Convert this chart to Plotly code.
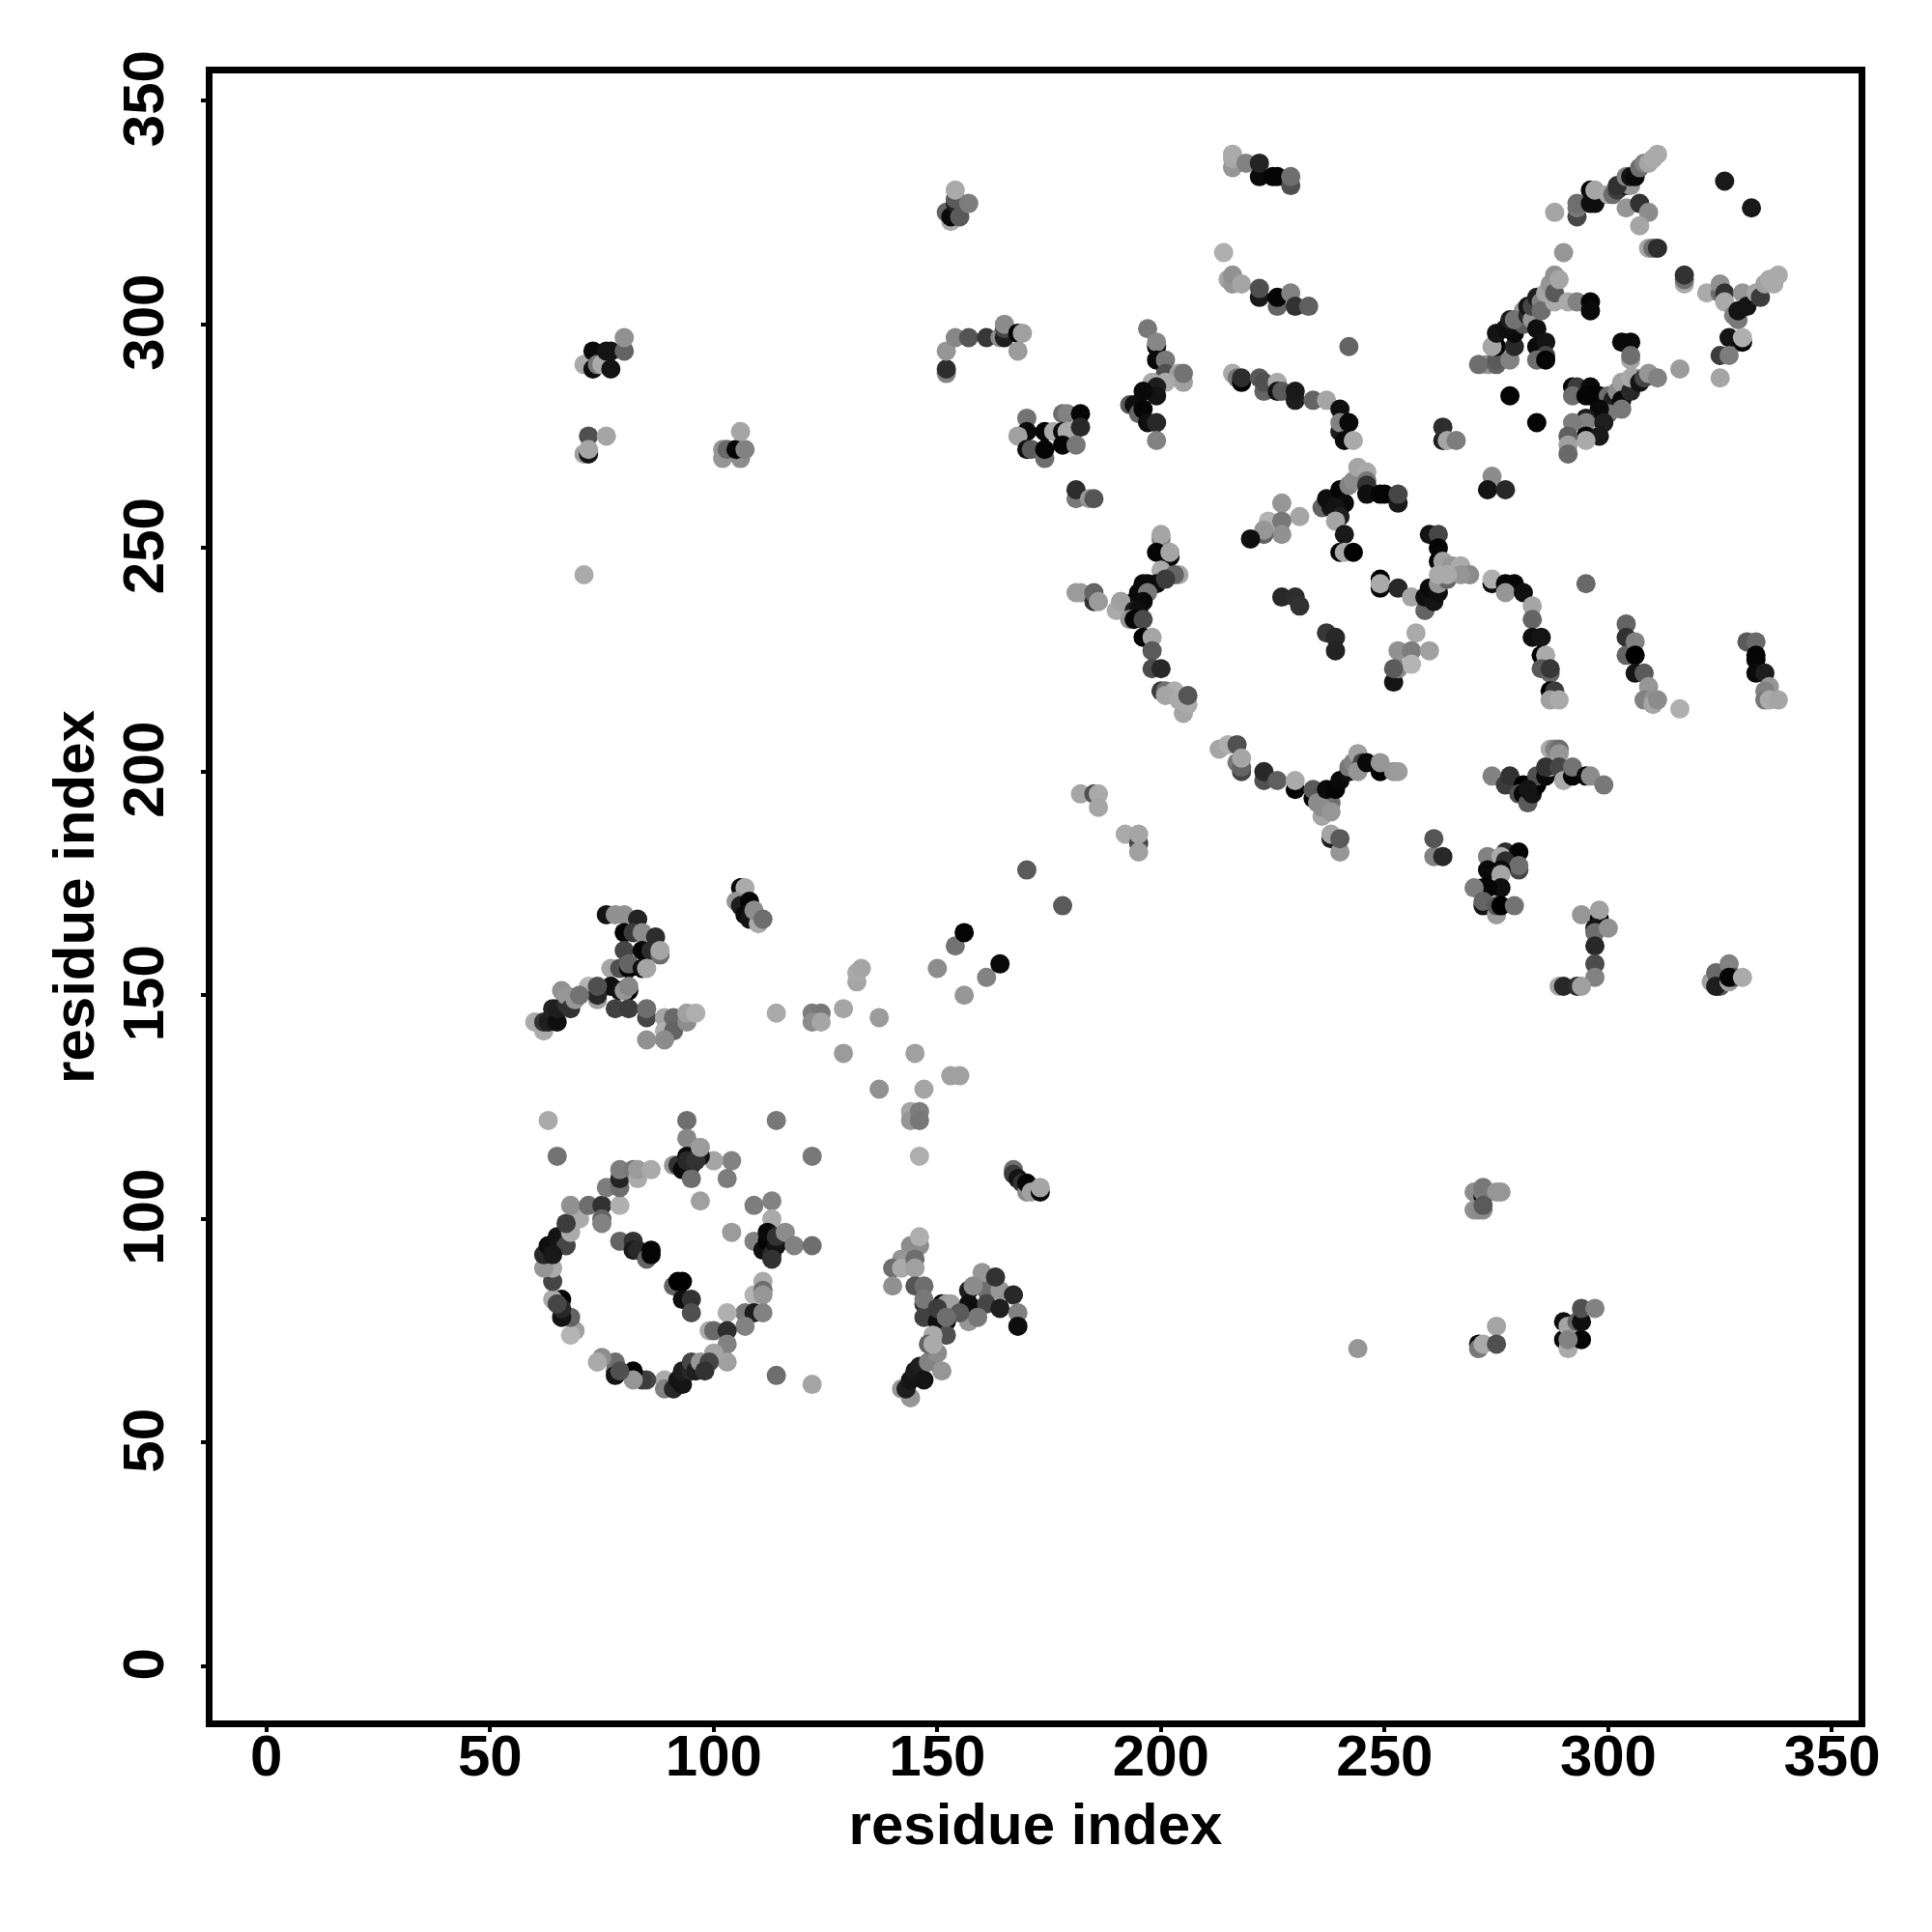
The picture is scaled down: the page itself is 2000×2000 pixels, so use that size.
import plotly.graph_objects as go

residue_x = [
63,65,94,94,114,122,104,100,103,97,
91,92,94,95,93,95,97,94,96,97,
109,113,113,104,109,111,112,113,114,112,
113,114,116,118,122,111,109,111,111,107,
109,111,103,107,99,100,103,103,103,100,
114,122,89,89,91,92,93,93,95,95,
96,97,99,98,85,84,82,82,78,78,
78,79,75,74,69,68,68,66,66,64,
64,64,62,62,63,65,67,64,68,70,
67,68,72,75,75,75,79,76,79,79,
79,82,83,83,86,79,82,82,83,86,
85,86,91,92,93,93,95,95,66,65,
137,147,153,155,144,144,146,146,146,144,
146,146,142,140,142,145,145,140,145,147,
147,147,151,152,150,152,150,152,149,153,
142,144,143,144,145,146,147,148,150,151,
157,157,161,161,164,164,167,168,168,160,
163,158,157,159,155,147,150,152,148,149,
76,78,80,83,80,82,84,87,80,84,
86,88,88,77,79,81,81,84,85,77,
79,81,80,81,72,74,74,74,78,81,
85,85,85,89,89,91,91,89,94,94,
96,60,62,62,63,64,65,65,66,67,
67,68,69,70,106,107,105,106,108,107,
108,110,109,111,114,122,124,122,124,129,
137,129,145,132,132,133,150,154,156,156,
161,164,170,178,71,71,73,73,74,75,
76,77,77,80,80,72,76,71,72,72,
102,102,103,106,105,107,106,152,152,152,
153,152,153,154,155,154,157,154,154,157,
161,164,165,165,165,168,169,168,170,170,
168,170,171,174,174,174,176,178,179,182,
178,179,182,178,181,181,181,184,185,197,
199,199,199,201,201,204,205,205,201,198,
199,199,193,194,195,196,196,197,199,199,
216,216,216,219,222,222,226,225,229,229,
214,215,216,216,218,222,222,226,226,229,
230,233,242,216,217,218,218,222,223,223,
226,226,227,230,230,234,237,240,240,240,
242,241,243,263,263,264,266,274,274,273,
277,288,293,293,293,296,296,297,297,300,
301,302,304,305,302,304,305,306,307,308,
309,310,311,304,307,309,307,309,310,311,
326,332,290,317,317,317,322,325,325,326,
326,328,329,329,330,331,333,334,335,336,
337,338,329,327,330,330,325,327,325,316,
273,271,275,275,275,278,279,279,281,281,
274,275,277,278,279,282,282,283,283,284,
284,285,285,286,287,288,288,288,289,284,
286,286,284,286,291,293,296,296,303,305,
305,305,278,284,292,293,292,296,296,295,
298,300,301,302,303,303,305,305,306,307,
308,309,311,303,300,298,298,295,295,292,
299,295,298,295,291,291,291,227,231,224,
227,227,223,223,220,236,238,237,240,241,
239,240,239,241,240,241,243,242,243,244,
246,246,246,246,249,250,253,253,260,262,
262,262,249,249,249,253,256,259,259,261,
260,262,262,264,263,265,267,269,267,264,
262,274,274,277,279,277,281,283,283,283,
285,285,286,285,287,287,287,288,287,289,
295,304,304,304,306,306,306,308,309,308,
310,310,311,316,331,333,333,333,333,335,
336,335,335,336,338,213,215,217,218,217,
218,218,223,223,226,230,230,234,234,238,
236,235,236,238,237,239,240,242,242,243,
244,245,244,246,249,249,252,253,238,238,
240,240,261,261,263,200,200,199,202,202,
200,199,197,196,195,197,194,196,191,190,
191,194,195,204,203,201,193,194,196,196,
198,198,198,200,200,201,203,201,205,204,
206,206,181,182,185,185,186,182,185,186,
186,192,195,195,195,227,230,231,237,239,
239,257,253,256,260,252,253,256,252,274,
277,278,281,280,281,282,283,284,284,286,
287,288,289,289,287,286,289,290,292,292,
295,296,299,282,273,277,280,280,276,277,
280,273,276,276,276,273,272,270,272,272,
275,275,276,279,294,298,298,297,297,300,
297,297,297,289,290,293,294,323,324,324,
325,324,327,327,328,327,330,244,270,272,
272,272,276,275,270,271,272,272,275,271,
271,272,275,290,290,291,291,293,294,294,
291,294,297,167,167,168,169,170,170,171,
173,173,
]

residue_y = [
122,114,122,118,122,114,113,113,109,104,
112,112,114,112,111,109,114,113,113,116,
103,104,100,97,95,93,95,92,94,97,
91,96,97,94,94,86,83,84,83,79,
79,79,79,76,75,75,75,72,68,70,
65,63,64,62,62,64,63,66,66,68,
66,68,68,66,64,64,66,64,66,68,
65,66,69,68,75,74,78,78,82,82,
86,89,89,92,94,96,94,92,97,100,
99,103,103,103,100,99,103,107,107,109,
111,111,109,111,111,95,95,93,93,93,
91,92,85,86,86,82,82,79,80,81,
129,129,132,132,124,122,124,122,114,94,
94,96,91,89,89,91,89,85,85,85,
81,78,81,81,77,77,74,74,74,81,
62,60,62,64,66,67,64,68,70,66,
84,81,84,81,84,80,83,79,76,88,
87,85,77,78,79,82,80,78,72,72,
168,168,168,167,164,164,164,163,160,160,
160,159,160,156,156,156,157,156,156,152,
151,151,151,152,152,149,150,152,147,147,
145,147,140,145,142,145,142,140,144,146,
146,144,142,144,144,147,144,147,151,148,
150,147,149,150,174,174,171,170,171,168,
167,166,169,167,146,146,146,144,144,147,
145,137,137,153,155,156,156,161,164,150,
154,157,178,170,244,291,290,294,291,291,
294,294,290,294,297,275,275,271,271,272,
272,270,272,270,272,272,276,289,290,294,
323,325,324,327,324,328,327,330,297,297,
297,297,297,299,300,298,298,294,279,276,
275,272,272,270,276,272,276,280,280,280,
276,276,277,273,273,261,263,261,261,299,
295,296,292,292,289,289,287,289,287,287,
286,284,282,282,280,285,281,278,278,274,
335,337,338,336,333,336,333,333,331,333,
316,310,309,311,309,306,308,304,306,307,
304,304,295,289,288,287,288,288,285,287,
287,285,285,283,285,283,283,281,276,278,
278,274,274,274,277,274,274,264,266,263,
263,325,324,326,327,330,327,327,330,329,
329,330,331,331,331,333,333,333,335,336,
336,337,338,326,327,325,322,317,317,317,
332,326,316,309,310,311,307,307,309,307,
305,302,301,303,307,304,307,306,309,310,
309,311,296,297,296,297,293,293,288,290,
291,291,291,292,295,292,295,298,300,303,
295,298,299,301,301,302,304,301,304,299,
306,305,303,307,309,305,307,311,310,295,
296,293,292,292,305,305,305,303,296,296,
292,293,284,278,286,286,284,286,284,284,
284,284,283,285,287,283,285,288,288,287,
288,289,288,281,280,281,279,279,278,278,
278,275,275,274,275,273,271,260,257,256,
256,253,253,254,252,259,259,261,263,260,
259,257,256,253,249,249,249,264,265,268,
267,265,264,262,262,262,260,262,253,253,
250,247,241,243,242,241,239,236,239,238,
241,240,242,243,247,246,246,244,244,244,
244,242,243,242,242,240,240,237,234,230,
230,226,226,223,222,223,218,218,216,216,
242,233,230,226,229,226,222,222,219,216,
216,215,216,214,229,229,226,225,222,222,
219,218,216,216,216,205,206,206,200,202,
201,203,198,200,198,196,198,194,196,193,
190,193,192,191,196,196,198,200,201,202,
204,202,200,202,200,202,200,200,185,186,
182,185,181,185,181,252,253,249,248,249,
245,242,242,242,240,240,238,238,238,236,
238,236,236,244,244,243,234,234,234,230,
230,227,223,223,218,218,218,217,213,216,
215,217,240,240,238,240,238,195,195,195,
192,186,184,182,186,239,239,237,231,230,
227,231,227,227,227,220,223,224,223,199,
197,199,197,195,195,193,195,197,199,199,
205,205,205,204,201,201,201,198,199,201,
199,199,197,196,181,182,182,178,181,180,
179,178,178,177,174,174,174,174,170,171,
168,170,170,170,168,167,169,165,164,165,
161,157,154,152,152,152,152,153,153,155,
152,152,157,153,154,154,154,71,106,105,
106,107,106,106,102,102,102,103,76,72,
71,72,72,77,73,76,71,77,73,77,
73,80,80,111,110,109,108,106,108,106,
106,107,
]

shade = [
170,115,110,135,120,120,130,165,125,160,
150,50,10,30,10,110,20,40,50,155,
125,130,170,155,130,15,5,40,20,10,
50,50,140,130,110,170,180,110,150,120,
30,130,175,130,170,105,45,130,160,165,
110,165,170,130,40,20,20,30,40,70,
30,150,70,50,70,60,5,150,100,110,
20,80,140,170,160,180,100,20,5,170,
70,170,150,40,15,20,70,25,170,170,
60,145,110,50,100,130,175,125,110,35,
125,120,170,155,170,100,50,25,40,5,
100,5,100,0,0,15,50,80,40,70,
145,165,160,160,165,150,125,120,175,140,
140,175,150,110,170,110,160,145,85,110,
55,65,5,150,15,15,20,80,170,160,
150,150,30,20,25,30,20,130,140,150,
30,15,110,70,150,30,40,130,15,150,
50,140,150,120,90,120,60,110,100,170,
20,145,145,35,5,60,140,45,70,5,
45,110,165,165,80,5,100,15,165,15,
20,5,150,135,180,160,40,80,65,60,
70,110,145,165,175,105,100,140,140,160,
175,170,170,50,30,35,15,30,145,45,
150,50,150,115,10,170,150,30,5,10,
20,170,140,110,170,125,120,140,165,165,
155,155,160,165,170,165,140,115,5,150,
130,10,90,90,170,170,15,10,120,170,
20,20,20,100,145,80,165,160,20,165,
150,150,105,140,5,130,165,130,45,150,
170,100,10,30,90,90,125,170,135,85,
55,140,30,70,140,0,160,155,115,10,
160,15,90,110,5,5,170,110,130,5,
10,170,40,5,120,120,45,150,85,120,
5,135,10,120,80,160,160,115,170,170,
30,20,90,15,100,10,5,15,40,130,
150,165,170,130,10,35,5,5,80,110,
175,165,150,145,165,25,80,100,5,130,
50,95,100,170,120,0,45,90,100,80,
170,20,90,30,25,100,165,15,30,130,
10,10,170,30,45,165,125,165,140,20,
40,165,70,120,110,5,15,15,165,170,
110,60,20,150,50,130,20,10,110,130,
165,170,170,150,50,140,165,165,110,45,
25,25,150,170,110,50,170,110,145,50,
170,130,120,20,150,20,165,60,160,170,
170,170,135,20,5,175,60,125,165,155,
150,110,100,90,5,130,40,10,90,150,
165,20,15,30,115,40,20,150,70,15,
30,130,110,165,150,170,90,145,165,10,
20,70,110,5,170,130,5,10,10,10,
165,110,5,5,10,60,110,10,0,5,
5,110,30,140,160,10,40,170,165,20,
70,150,130,120,120,10,10,30,130,125,
30,5,25,170,95,160,105,150,165,180,
120,145,100,150,15,100,20,15,5,10,
20,30,165,25,5,170,0,130,140,165,
170,120,50,15,5,5,25,70,20,70,
5,5,10,0,170,40,165,100,15,20,
10,15,150,100,160,150,170,140,150,170,
170,15,175,5,5,150,15,165,100,15,
20,0,170,90,100,55,0,60,160,170,
105,100,50,100,130,0,20,90,150,130,
145,165,140,175,90,105,5,5,10,30,
150,130,120,170,165,165,175,80,70,120,
100,165,80,40,95,5,170,5,90,110,
165,140,140,150,10,5,10,15,120,130,
160,70,150,10,0,150,150,155,30,165,
150,90,130,85,40,130,165,5,10,165,
170,15,10,10,10,120,10,10,125,170,
160,30,15,165,100,60,150,5,75,0,
165,90,75,40,60,110,175,165,165,170,
170,85,155,155,50,100,155,165,80,170,
165,170,70,160,165,40,45,50,55,40,
35,170,145,125,160,20,140,180,90,130,
60,50,0,80,5,90,20,5,80,10,
170,130,110,150,165,50,70,170,5,115,
10,140,120,20,130,45,5,70,170,45,
110,10,10,165,15,5,5,125,20,100,
155,90,0,115,150,5,160,20,110,145,
40,75,130,165,40,45,160,160,170,105,
85,30,130,160,80,5,170,150,140,5,
130,120,150,150,145,140,140,90,165,10,
120,170,80,15,10,165,170,100,5,15,
130,80,130,110,60,20,50,140,5,160,
10,165,
]

tick_values = [0, 50, 100, 150, 200, 250, 300, 350]
axis_title = "residue index"

assert len(residue_x) == len(residue_y) == len(shade), (len(residue_x), len(residue_y), len(shade))

colors = [f"rgb({s},{s},{s})" for s in shade]

fig = go.Figure(go.Scatter(
    x=residue_x, y=residue_y, mode="markers",
    marker=dict(size=20, color=colors, line=dict(width=0)),
    hoverinfo="skip", showlegend=False,
))

font = dict(family="Liberation Sans", size=60, color="black", weight="bold")
axis_common = dict(
    tickmode="array", tickvals=tick_values, ticktext=[str(v) for v in tick_values],
    showgrid=False, zeroline=False, showline=True, mirror=True,
    linecolor="black", linewidth=6.5, ticks="outside", ticklen=5, tickwidth=3.5,
    tickcolor="black", tickfont=font,
)
fig.update_xaxes(range=[-12.05, 355.95], ticklabelstandoff=-27,
                 title=dict(text=f"<b>{axis_title}</b>", font=font, standoff=20), **axis_common)
fig.update_yaxes(range=[-12.13, 356.07], tickangle=-90, ticklabelstandoff=15, ticklabelshift=7,
                 title=dict(text=f"<b>{axis_title}</b>", font=font, standoff=1), **axis_common)
fig.update_layout(
    width=2000, height=2000, autosize=False,
    margin=dict(l=212, r=84, t=68, b=227, autoexpand=False),
    paper_bgcolor="white", plot_bgcolor="white",
)
fig.write_html("out.html")
